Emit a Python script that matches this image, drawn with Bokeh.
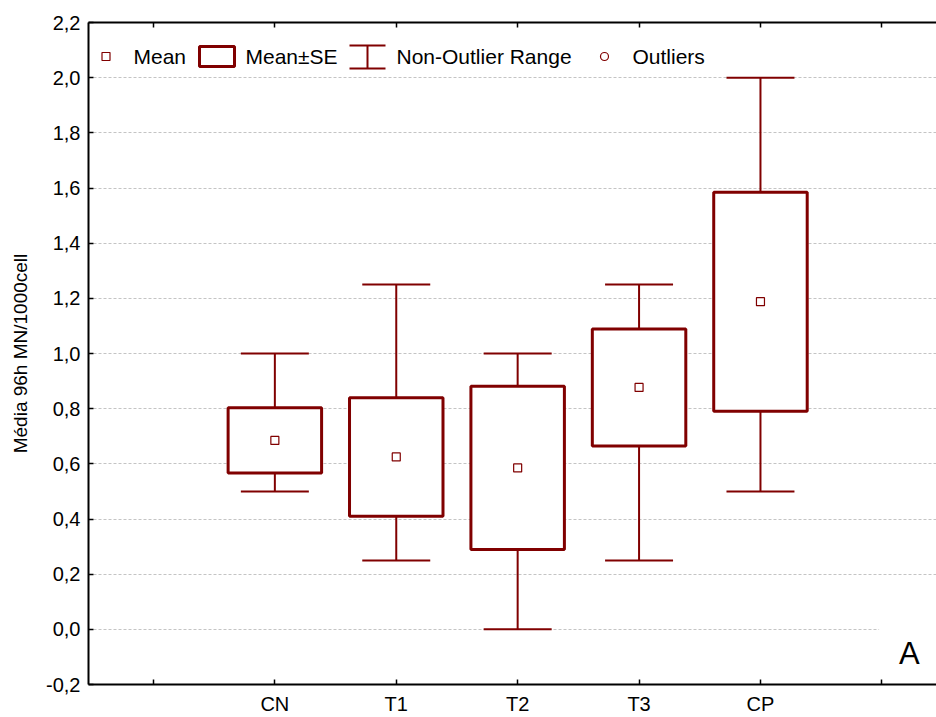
from bokeh.plotting import figure
from bokeh.models import (FixedTicker, CustomJSTickFormatter, LinearAxis, Label,
                          BoxAnnotation, Range1d, ColumnDataSource)
from bokeh.embed import file_html
from bokeh.resources import INLINE

# ---------------- data ----------------
categories = ["CN", "T1", "T2", "T3", "CP"]
means = [0.685, 0.625, 0.585, 0.877, 1.188]
se = [0.118, 0.215, 0.296, 0.212, 0.397]
range_lo = [0.5, 0.25, 0.0, 0.25, 0.5]
range_hi = [1.0, 1.25, 1.0, 1.25, 2.0]
y_ticks = [-0.2, 0.0, 0.2, 0.4, 0.6, 0.8, 1.0, 1.2, 1.4, 1.6, 1.8, 2.0, 2.2]
legend_labels = ["Mean", "Mean\u00b1SE", "Non-Outlier Range", "Outliers"]
y_label = "Média 96h MN/1000cell"
panel_letter = "A"

# ---------------- style ----------------
RED = "#800000"
FONT = "Liberation Sans"
BOX_W = 0.77
CAP_W = 0.56

xpos = [i + 2 for i in range(len(categories))]
edge_ticks = [min(xpos) - 1, max(xpos) + 1]
src = ColumnDataSource(dict(
    x=xpos,
    mean=means,
    lo=[m - s for m, s in zip(means, se)],
    hi=[m + s for m, s in zip(means, se)],
    rlo=range_lo,
    rhi=range_hi,
    cl=[x - CAP_W / 2 for x in xpos],
    cr=[x + CAP_W / 2 for x in xpos],
))

p = figure(width=936, height=717, output_backend="svg", toolbar_location=None,
           x_range=Range1d(0.465, 7.45), y_range=Range1d(-0.2, 2.2),
           min_border_left=88, min_border_right=0, min_border_top=22,
           min_border_bottom=32)
p.outline_line_color = None
p.background_fill_color = "white"
p.border_fill_color = "white"

# x axis
p.xaxis.ticker = FixedTicker(ticks=xpos, minor_ticks=edge_ticks)
p.xaxis.major_label_overrides = {x: c for x, c in zip(xpos, categories)}
p.xaxis.major_label_text_font = FONT
p.xaxis.major_label_text_font_size = "20px"
p.xaxis.major_label_text_color = "black"
p.xaxis.major_label_standoff = 8
p.xaxis.major_tick_in = 5
p.xaxis.major_tick_out = 0
p.xaxis.minor_tick_in = 5
p.xaxis.minor_tick_out = 0
p.xaxis.minor_tick_line_width = 1.5
p.xaxis.axis_line_width = 2
p.xaxis.major_tick_line_width = 1.5

# top axis: ticks only (all drawn as minor ticks, so no labels)
top = LinearAxis(ticker=FixedTicker(ticks=[], minor_ticks=edge_ticks[:1] + xpos + edge_ticks[1:]),
                 major_tick_in=0, major_tick_out=0, minor_tick_in=5, minor_tick_out=0,
                 minor_tick_line_width=1.5, minor_tick_line_color="black",
                 axis_line_width=2, major_label_standoff=0)
p.add_layout(top, "above")

# y axis
p.yaxis.ticker = FixedTicker(ticks=y_ticks)
p.yaxis.formatter = CustomJSTickFormatter(code="return tick.toFixed(1).replace('.', ',')")
p.yaxis.major_label_text_font = FONT
p.yaxis.major_label_text_font_size = "20px"
p.yaxis.major_label_text_color = "black"
p.yaxis.major_label_standoff = 8
p.yaxis.major_tick_in = 5
p.yaxis.major_tick_out = 0
p.yaxis.minor_tick_line_color = None
p.yaxis.axis_line_width = 2
p.yaxis.major_tick_line_width = 1.5
p.yaxis.axis_label = y_label
p.yaxis.axis_label_text_font = FONT
p.yaxis.axis_label_text_font_size = "19px"
p.yaxis.axis_label_text_font_style = "normal"
p.yaxis.axis_label_text_color = "black"
p.yaxis.axis_label_standoff = 12

# grid
p.xgrid.grid_line_color = None
p.ygrid.ticker = FixedTicker(ticks=y_ticks)
p.ygrid.grid_line_color = "#c4c4c4"
p.ygrid.grid_line_dash = "3 2"
p.ygrid.grid_line_width = 1

# glyphs
p.segment(x0="x", y0="rlo", x1="x", y1="rhi", source=src, line_color=RED, line_width=2)
p.segment(x0="cl", y0="rhi", x1="cr", y1="rhi", source=src, line_color=RED, line_width=2)
p.segment(x0="cl", y0="rlo", x1="cr", y1="rlo", source=src, line_color=RED, line_width=2)
p.vbar(x="x", bottom="lo", top="hi", width=BOX_W, source=src,
       fill_color="white", line_color=RED, line_width=3)
p.scatter(x="x", y="mean", marker="square", size=8, source=src,
          fill_color="white", line_color=RED, line_width=1.2)

# panel letter (drawn below the axes so its white box hides only the grid)
p.add_layout(Label(x=7.227, y=-0.088, text=panel_letter, text_font=FONT,
                   text_font_size="31px", text_align="center", text_baseline="middle",
                   text_color="black", background_fill_color="white", padding=20,
                   level="glyph"))

# ---------------- manual legend (screen units, relative to frame) ----------------
def sbox(l, r, b, t, **kw):
    return BoxAnnotation(left=l, right=r, bottom=b, top=t,
                         left_units="screen", right_units="screen",
                         bottom_units="screen", top_units="screen", **kw)

LY = 628  # legend row centre, px above frame bottom
# Mean marker
p.add_layout(sbox(13.5, 21.5, LY - 4, LY + 4, fill_color="white", fill_alpha=1,
                  line_color=RED, line_width=1.2, line_alpha=1))
# Mean±SE box
p.add_layout(sbox(111, 146, LY - 10, LY + 10, fill_color="white", fill_alpha=1,
                  line_color=RED, line_width=3, line_alpha=1))
# Non-outlier range I-beam
for (l, r, b, t) in [(261, 297, LY + 10, LY + 12), (261, 297, LY - 13, LY - 11),
                     (278, 280, LY - 12, LY + 11)]:
    p.add_layout(sbox(l, r, b, t, fill_color=RED, fill_alpha=1, line_alpha=0))
# Outlier circle
p.add_layout(sbox(512, 520, LY - 4, LY + 4, fill_color="white", fill_alpha=1,
                  line_color=RED, line_width=1.2, line_alpha=1, border_radius=4))

for lx, txt in zip([45, 157, 308, 544], legend_labels):
    p.add_layout(Label(x=lx, y=LY, x_units="screen", y_units="screen", text=txt,
                       text_font=FONT, text_font_size="21px", text_baseline="middle",
                       text_color="black"))

open("out.html", "w").write(file_html(p, INLINE))
